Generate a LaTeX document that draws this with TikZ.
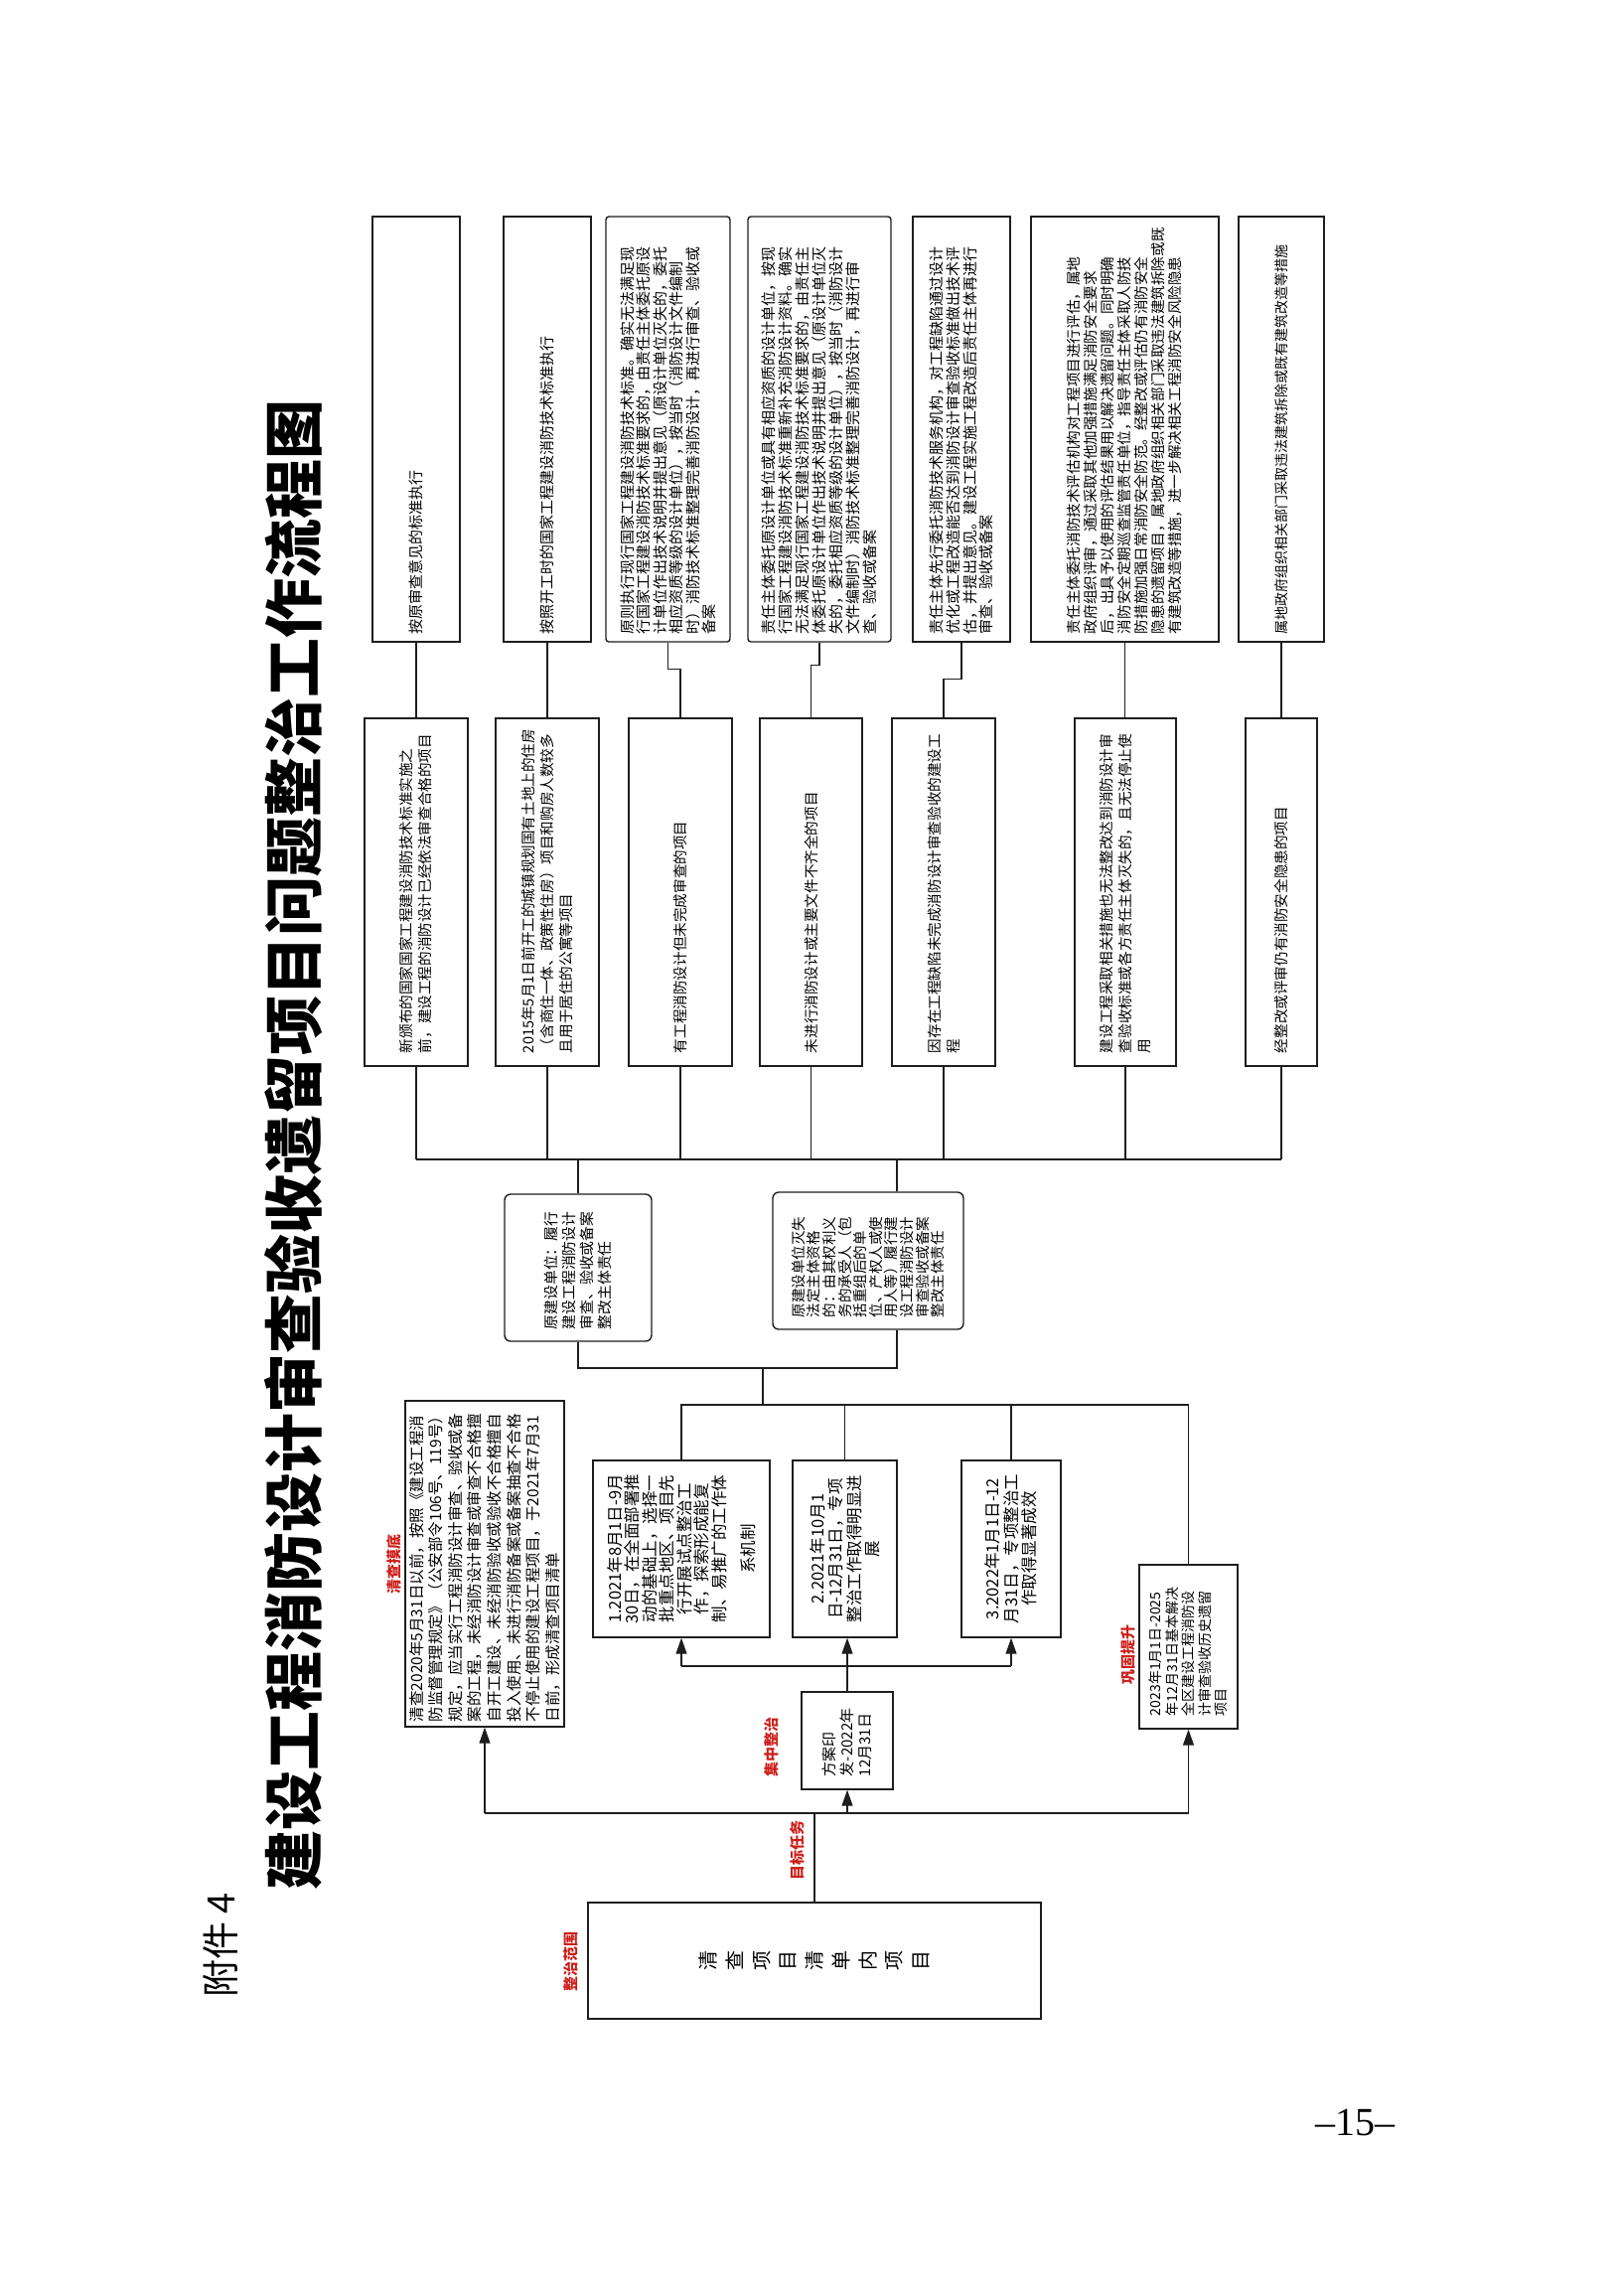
\documentclass[tikz,border=0pt]{standalone}
\usepackage{fontspec}
\setmainfont{Noto Sans CJK SC}
\newfontfamily\pagenumfont{Liberation Serif}
\usetikzlibrary{arrows.meta}
\definecolor{lblred}{RGB}{205,30,25}
\definecolor{ln}{RGB}{30,30,30}
\begin{document}
\begin{tikzpicture}[x=1pt,y=-1pt,
  bx/.style={draw=ln,line width=1.4pt,rotate=90,inner sep=0pt,anchor=center,align=left},
  cbx/.style={bx,align=center},
  conn/.style={draw=ln,line width=1.2pt},
  arr/.style={conn,-{Triangle[length=16pt,width=11pt]}},
  lbl/.style={rotate=90,text=lblred,inner sep=0pt,font=\bfseries\fontsize{15}{15}\selectfont},
  tbox/.style={bx,font=\fontsize{15}{16.5}\selectfont,minimum width=428pt,text width=412pt},
  mbox/.style={bx,font=\fontsize{14.6}{19}\selectfont,minimum width=350pt,text width=324pt},
]
\fill[white] (0,0) rectangle (1633,2311);
\useasboundingbox (0,0) rectangle (1633,2311);

% title and page marks
\node[rotate=90,font=\bfseries\fontsize{60}{60}\selectfont,inner sep=0pt] (title) at (295,1152) {建设工程消防设计审查验收遗留项目问题整治工作流程图};
\node[rotate=90,font=\fontsize{38}{38}\selectfont,inner sep=0pt] (fj) at (222,1958) {附件 4};
\node[font=\pagenumfont\fontsize{40}{40}\selectfont,inner sep=0pt] (pn) at (1364,2136) {–15–};

% top row (treatment measures)
\node[tbox,minimum height=88pt] (t1) at (419,432) {按原审查意见的标准执行};
\node[tbox,minimum height=88pt] (t2) at (551,432) {按照开工时的国家工程建设消防技术标准执行};
\node[tbox,minimum height=125pt,rounded corners=3pt] (t3) at (672.5,432) {原则执行现行国家工程建设消防技术标准。确实无法满足现\\行国家工程建设消防技术标准要求的，由责任主体委托原设\\计单位作出技术说明并提出意见（原设计单位灭失的，委托\\相应资质等级的设计单位），按当时（消防设计文件编制\\时）消防技术标准整理完善消防设计，再进行审查、验收或\\备案};
\node[tbox,minimum height=144pt,rounded corners=3pt,font=\fontsize{15}{17}\selectfont] (t4) at (825,432) {责任主体委托原设计单位或具有相应资质的设计单位，按现\\行国家工程建设消防技术标准重新补充消防设计资料。确实\\无法满足现行国家工程建设消防技术标准要求的，由责任主\\体委托原设计单位作出技术说明并提出意见（原设计单位灭\\失的，委托相应资质等级的设计单位），按当时（消防设计\\文件编制时）消防技术标准整理完善消防设计，再进行审\\查、验收或备案};
\node[tbox,minimum height=98pt,font=\fontsize{15}{16.7}\selectfont] (t5) at (968,432) {责任主体先行委托消防技术服务机构，对工程缺陷通过设计\\优化或工程改造能否达到消防设计审查验收标准做出技术评\\估，并提出意见。建设工程实施工程改造后责任主体再进行\\审查、验收或备案};
\node[tbox,minimum height=189pt,font=\fontsize{14.6}{17}\selectfont] (t6) at (1132.5,432) {责任主体委托消防技术评估机构对工程项目进行评估，属地\\政府组织评审，通过采取其他加强措施满足消防安全要求\\后，出具予以使用的评估结果用以解决遗留问题。同时明确\\消防安全定期巡查监管责任单位，指导责任主体采取人防技\\防措施加强日常消防安全防范。经整改或评估仍有消防安全\\隐患的遗留项目，属地政府组织相关部门采取违法建筑拆除或既\\有建筑改造等措施，进一步解决相关工程消防安全风险隐患};
\node[tbox,minimum height=86pt,font=\fontsize{14}{16}\selectfont] (t7) at (1290,432) {属地政府组织相关部门采取违法建筑拆除或既有建筑改造等措施};

% middle row (project categories)
\node[mbox,minimum height=104pt] (m1) at (419,898) {新颁布的国家国家工程建设消防技术标准实施之\\前，建设工程的消防设计已经依法审查合格的项目};
\node[mbox,minimum height=104pt] (m2) at (551,898) {2015年5月1日前开工的城镇规划国有土地上的住房\\（含商住一体、政策性住房）项目和购房人数较多\\且用于居住的公寓等项目};
\node[mbox,minimum height=104pt] (m3) at (685,898) {有工程消防设计但未完成审查的项目};
\node[mbox,minimum height=103pt] (m4) at (816.5,898) {未进行消防设计或主要文件不齐全的项目};
\node[mbox,minimum height=104pt] (m5) at (950,898) {因存在工程缺陷未完成消防设计审查验收的建设工\\程};
\node[mbox,minimum height=102pt] (m6) at (1133,898) {建设工程采取相关措施也无法整改达到消防设计审\\查验收标准或各方责任主体灭失的，且无法停止使\\用};
\node[mbox,minimum height=72pt] (m7) at (1290,898) {经整改或评审仍有消防安全隐患的项目};

% responsible parties
\node[bx,rounded corners=6pt,font=\fontsize{14.8}{18}\selectfont,minimum width=148pt,minimum height=148pt,text width=124pt] (ml) at (582,1276) {原建设单位：履行\\建设工程消防设计\\审查、验收或备案\\整改主体责任};
\node[bx,rounded corners=6pt,font=\fontsize{14.5}{15.6}\selectfont,minimum width=138pt,minimum height=192pt,text width=114pt] (mr) at (874,1269) {原建设单位灭失\\法定主体资格\\的：由其权利义\\务的承受人（包\\括重组后的单\\位、产权人或使\\用人等）履行建\\设工程消防设计\\审查验收或备案\\整改主体责任};
\coordinate (mrx) at (903,0);

% stage boxes
\node[cbx,font=\fontsize{16.5}{17.5}\selectfont,minimum width=178pt,minimum height=178pt,text width=170pt] (s1) at (686,1559) {1.2021年8月1日-9月\\30日，在全面部署推\\动的基础上，选择一\\批重点地区、项目先\\行开展试点整治工\\作，探索形成能复\\制、易推广的工作体\\[12pt]系机制};
\node[cbx,font=\fontsize{16.5}{18.5}\selectfont,minimum width=178pt,minimum height=105pt,text width=170pt] (s2) at (850.5,1559) {2.2021年10月1\\日-12月31日，专项\\整治工作取得明显进\\展};
\node[cbx,font=\fontsize{16.5}{18.5}\selectfont,minimum width=178pt,minimum height=100pt,text width=170pt] (s3) at (1018,1559) {3.2022年1月1日-12\\月31日，专项整治工\\作取得显著成效};

\node[bx,font=\fontsize{15.5}{19.6}\selectfont,minimum width=328pt,minimum height=160pt,text width=318pt] (qc) at (488,1574) {清查2020年5月31日以前，按照《建设工程消\\防监督管理规定》（公安部令106号、119号）\\规定，应当实行工程消防设计审查、验收或备\\案的工程，未经消防设计审查或审查不合格擅\\自开工建设、未经消防验收或验收不合格擅自\\投入使用、未进行消防备案或备案抽查不合格\\不停止使用的建设工程项目，于2021年7月31\\日前，形成清查项目清单};
\node[bx,font=\fontsize{15}{18}\selectfont,minimum width=98pt,minimum height=92pt,text width=72pt] (fa) at (853,1752) {方案印\\发-2022年\\12月31日};
\node[bx,font=\fontsize{14}{16.5}\selectfont,minimum width=165pt,minimum height=99pt,text width=139pt] (gg) at (1196.5,1657.5) {2023年1月1日-2025\\年12月31日基本解决\\全区建设工程消防设\\计审查验收历史遗留\\项目};
\node[cbx,font=\fontsize{20}{26.7}\selectfont,minimum width=117pt,minimum height=456pt,text width=60pt] (big) at (820,1973.5) {清\\查\\项\\目\\清\\单\\内\\项\\目};

% red labels
\node[lbl] (lqc) at (397,1574) {清查摸底};
\node[lbl] (lfa) at (777,1758) {集中整治};
\node[lbl] (lmb) at (803,1862) {目标任务};
\node[lbl] (lgg) at (1136,1665) {巩固提升};
\node[lbl] (lzz) at (575,1974) {整治范围};

% connectors: bottom bus
\coordinate (bA) at (488,1825);
\coordinate (bB) at (1196.5,1825);
\draw[conn] (big.east) -- (big.east |- bA);
\draw[conn] (bA) -- (bB);
\draw[arr] (bA) -- (qc.west);
\draw[arr] (fa.west |- bA) -- (fa.west);
\draw[arr] (bB) -- (gg.west);

% from plan box to stages
\coordinate (mA) at (0,1677);
\draw[conn,line width=1.8pt] (s1.west |- mA) -- (s3.west |- mA);
\draw[arr] (fa.east) -- (fa.east |- s2.west);
\draw[arr] (s1.west |- mA) -- (s1.west);
\draw[arr] (s3.west |- mA) -- (s3.west);

% stages top bus
\coordinate (tA) at (0,1414);
\draw[conn] (s1.east) -- (s1.east |- tA) -- (gg.east |- tA) -- (gg.east);
\draw[conn] (s2.east) -- (s2.east |- tA);
\draw[conn] (s3.east) -- (s3.east |- tA);
\coordinate (uA) at (768,1414);
\coordinate (uB) at (768,1377);
\draw[conn] (uA) -- (uB);
\draw[conn] (ml.west) -- (ml.west |- uB) -- (mrx |- uB) -- (mrx |- mr.west);

% categories bus
\coordinate (hb) at (0,1167);
\draw[conn] (m1.west |- hb) -- (m7.west |- hb);
\foreach \n in {m1,m2,m3,m4,m5,m6,m7} \draw[conn] (\n.west) -- (\n.west |- hb);
\draw[conn] (ml.east) -- (ml.east |- hb);
\draw[conn] (mrx |- mr.east) -- (mrx |- hb);

% measures to categories
\draw[conn] (t1.west) -- (m1.east);
\draw[conn] (t2.west) -- (m2.east);
\draw[conn] (t3.west) -- ++(0,27) -| (m3.east);
\draw[conn] (t4.west) -- ++(0,23) -| (m4.east);
\draw[conn] (t5.west) -- ++(0,37) -| (m5.east);
\draw[conn] (t6.west) -- (t6.west |- m6.east);
\draw[conn] (t7.west) -- (m7.east);
\end{tikzpicture}
\end{document}
